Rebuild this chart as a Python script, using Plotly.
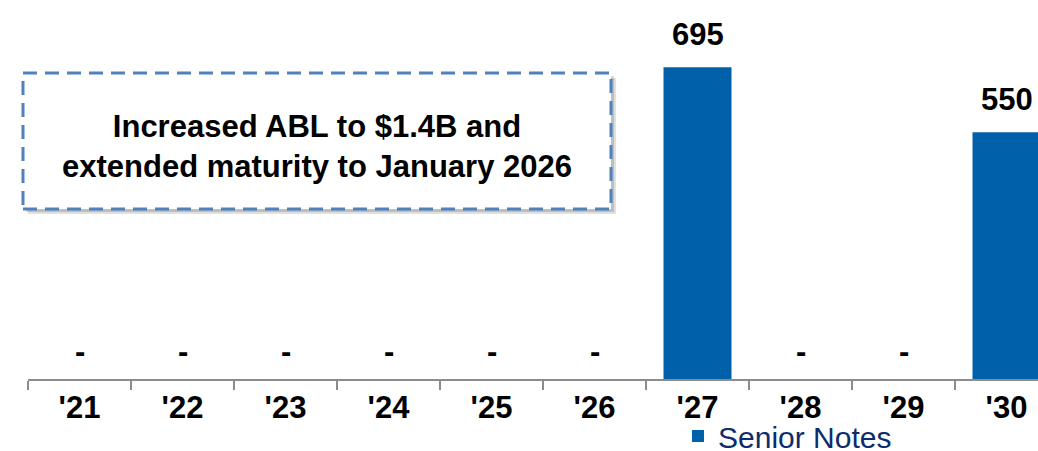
import plotly.graph_objects as go

years = ["'21", "'22", "'23", "'24", "'25", "'26", "'27", "'28", "'29", "'30"]
senior_notes = [0, 0, 0, 0, 0, 0, 695, 0, 0, 550]
series_name = "Senior Notes"
box_text = "Increased ABL to $1.4B and<br>extended maturity to January 2026"

W, H = 1038, 451
L, B = 28, 72
plot_w = W - L
plot_h = H - B
cat_px = 103.0
x_span = plot_w / cat_px

def px_x(p):
    return (p - L) / plot_w

def px_y(p):
    return (plot_h - p) / plot_h

BAR = "#0060A9"
FONT = "Liberation Sans, Arial, sans-serif"

fig = go.Figure()
fig.add_trace(go.Bar(
    x=years, y=senior_notes, name=series_name,
    marker=dict(color=BAR, line=dict(width=0)),
    width=0.66, showlegend=True,
))

for xv, v in zip(years, senior_notes):
    fig.add_annotation(
        x=xv, y=v, xref="x", yref="y",
        text=(f"{v:,}" if v > 0 else "-"),
        showarrow=False, yanchor="bottom",
        yshift=(13 if v > 0 else 8),
        font=dict(family=FONT, size=31, color="#000000", weight="bold"),
    )

# annotation box with shadow
bx0, bx1, by0, by1 = 23, 611, 73, 209
fig.add_shape(type="rect", xref="paper", yref="paper",
              x0=px_x(bx0 + 5), x1=px_x(bx1 + 5), y0=px_y(by1 + 5), y1=px_y(by0 + 5),
              fillcolor="rgba(0,0,0,0.12)", line=dict(width=0), layer="above")
fig.add_shape(type="rect", xref="paper", yref="paper",
              x0=px_x(bx0 + 3), x1=px_x(bx1 + 3), y0=px_y(by1 + 3), y1=px_y(by0 + 3),
              fillcolor="rgba(0,0,0,0.15)", line=dict(width=0), layer="above")
fig.add_shape(type="rect", xref="paper", yref="paper",
              x0=px_x(bx0), x1=px_x(bx1), y0=px_y(by1), y1=px_y(by0),
              fillcolor="white", line=dict(color="#4F81BD", width=3, dash="14px,8px"),
              layer="above")
fig.add_annotation(
    xref="paper", yref="paper", x=px_x((bx0 + bx1) / 2), y=px_y((by0 + by1) / 2 + 5),
    text=box_text, showarrow=False, xanchor="center", yanchor="middle",
    align="center",
    font=dict(family=FONT, size=31, color="#000000", weight="bold"),
)

fig.update_layout(
    width=W, height=H,
    margin=dict(l=L, r=0, t=0, b=B, pad=0, autoexpand=False),
    paper_bgcolor="white", plot_bgcolor="white",
    bargap=0.34,
    xaxis=dict(
        type="category", range=[-0.5, -0.5 + x_span],
        showline=True, linecolor="#8C8C8C", linewidth=2,
        ticks="outside", tickson="boundaries", ticklen=9, tickwidth=2, tickcolor="#8C8C8C",
        tickfont=dict(family=FONT, size=31, color="#000000", weight="bold"),
        showgrid=False, zeroline=False, fixedrange=True, automargin=False,
    ),
    yaxis=dict(
        range=[0, 845], visible=False, showgrid=False, zeroline=False, fixedrange=True,
    ),
    legend=dict(
        orientation="h", x=px_x(678), xanchor="left", y=px_y(436), yanchor="middle",
        font=dict(family=FONT, size=30, color="#0D2C6C"),
        bgcolor="rgba(0,0,0,0)", itemwidth=30,
    ),
    showlegend=True,
)

fig.write_html("out.html")
